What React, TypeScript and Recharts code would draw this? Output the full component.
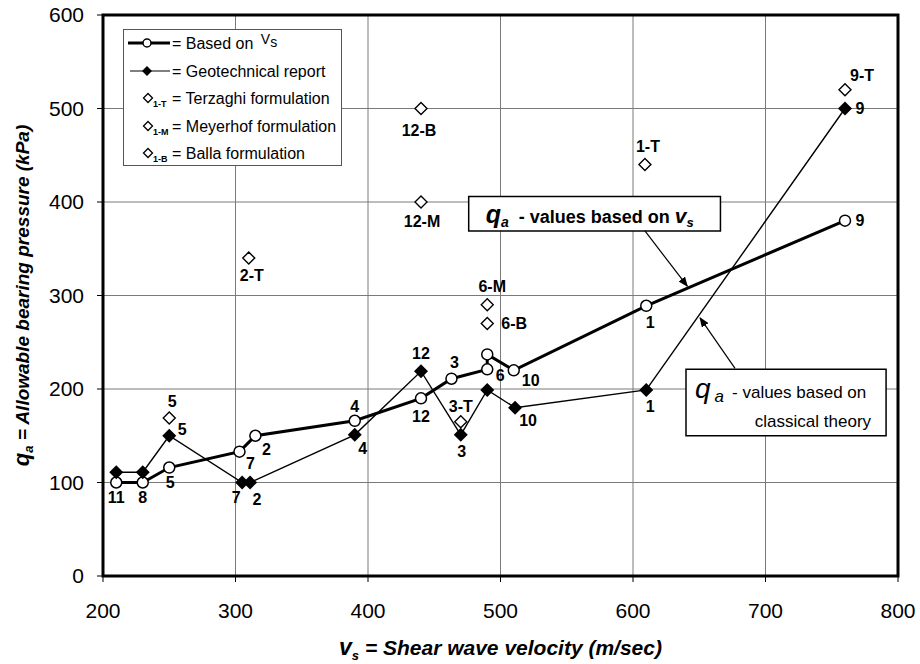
import React from 'react'
import {
  ScatterChart,
  Scatter,
  XAxis,
  YAxis,
  CartesianGrid,
  ReferenceArea,
  ReferenceLine,
  Legend,
} from 'recharts'

const FONT = '"Liberation Sans", Arial, Helvetica, sans-serif'

const X_TICKS = [200, 300, 400, 500, 600, 700, 800]
const Y_TICKS = [0, 100, 200, 300, 400, 500, 600]

// q_a based on v_s (open circles, thick line)
const vsVelocity = [210, 230, 250, 303, 315, 390, 440, 463, 490, 490, 510, 610, 760]
const vsPressure = [100, 100, 116, 133, 150, 166, 190, 211, 221, 237, 220, 289, 380]
const vsLabels = ['11', '8', '5', '7', '2', '4', '12', '3', '6', '', '10', '1', '9']

// geotechnical report (filled diamonds, thin line)
const geoVelocity = [210, 230, 250, 305, 311, 390, 440, 470, 490, 511, 610, 760]
const geoPressure = [111, 111, 150, 100, 100, 151, 219, 151, 199, 180, 199, 500]
const geoLabels = ['', '', '5', '7', '2', '4', '12', '3', '', '10', '1', '9']

// Terzaghi / Meyerhof / Balla formulations (open diamonds)
const formVelocity = [250, 310, 440, 440, 490, 490, 470, 609, 760]
const formPressure = [169, 340, 500, 400, 290, 270, 165, 440, 520]
const formLabels = ['5', '2-T', '12-B', '12-M', '6-M', '6-B', '3-T', '1-T', '9-T']

// where each point label sits relative to its marker (px)
const vsLabelOffsets = [
  [0, 15], [0, 15], [1, 15], [11, 12], [11, 14], [0, -14], [0, 18],
  [3, -16], [13, 6], [0, 0], [17, 10], [4, 17], [15, 0],
]
const geoLabelOffsets = [
  [0, 0], [0, 0], [13, -6], [-6, 15], [7, 17], [8, 14], [0, -18],
  [1, 17], [0, 0], [13, 13], [4, 17], [15, 0],
]
const formLabelOffsets = [
  [3, -16], [3, 17], [-2, 22], [1, 19], [5, -18], [27, 0], [0, -15], [3, -18], [17, -14],
]

const toPoints = (xs: number[], ys: number[], labels: string[]) =>
  xs.map((x, i) => ({ x, y: ys[i], label: labels[i], i }))

const vsData = toPoints(vsVelocity, vsPressure, vsLabels)
const geoData = toPoints(geoVelocity, geoPressure, geoLabels)
const formData = toPoints(formVelocity, formPressure, formLabels)

const diamond = (cx: number, cy: number, s: number) =>
  `M${cx},${cy - s}L${cx + s},${cy}L${cx},${cy + s}L${cx - s},${cy}Z`

function makeShape(kind: 'circle' | 'filled' | 'open', offsets: number[][]) {
  return (props: any) => {
    const { cx, cy, payload } = props
    if (cx == null || cy == null) return <g />
    const [dx, dy] = offsets[payload.i] || [0, 0]
    return (
      <g>
        {kind === 'circle' && (
          <circle cx={cx} cy={cy} r={5.5} fill="#fff" stroke="#000" strokeWidth={1.5} />
        )}
        {kind === 'filled' && <path d={diamond(cx, cy, 7)} fill="#000" />}
        {kind === 'open' && (
          <path d={diamond(cx, cy, 6)} fill="#fff" stroke="#000" strokeWidth={1.4} />
        )}
        {payload.label && (
          <text
            x={cx + dx}
            y={cy + dy}
            textAnchor="middle"
            dominantBaseline="central"
            fontFamily={FONT}
            fontWeight="bold"
            fontSize={16}
            fill="#000"
          >
            {payload.label}
          </text>
        )}
      </g>
    )
  }
}

function LegendBox() {
  const rows = [14, 42, 69, 97, 124]
  const subs = ['1-T', '1-M', '1-B']
  const names = ['Terzaghi formulation', 'Meyerhof formulation', 'Balla formulation']
  return (
    <svg width={220} height={138} style={{ display: 'block' }}>
      <rect x={0.5} y={0.5} width={218} height={136} fill="#fff" stroke="#555" strokeWidth={1} />
      <line x1={5} y1={rows[0]} x2={47} y2={rows[0]} stroke="#000" strokeWidth={3} />
      <circle cx={24} cy={rows[0]} r={4} fill="#fff" stroke="#000" strokeWidth={1.5} />
      <text x={49} y={rows[0] + 6} fontFamily={FONT} fontSize={16} fill="#000">
        = Based on <tspan fontSize={14} dy={-5} dx={3}>V</tspan>
        <tspan fontSize={14} dy={3}>s</tspan>
      </text>
      <line x1={7} y1={rows[1]} x2={47} y2={rows[1]} stroke="#000" strokeWidth={1.2} />
      <path d={diamond(24, rows[1], 5)} fill="#000" />
      <text x={49} y={rows[1] + 6} fontFamily={FONT} fontSize={16} fill="#000">
        = Geotechnical report
      </text>
      {subs.map((s, k) => (
        <g key={s}>
          <path d={diamond(25, rows[k + 2], 4.5)} fill="#fff" stroke="#000" strokeWidth={1.3} />
          <text x={30} y={rows[k + 2] + 9} fontFamily={FONT} fontSize={9} fontWeight="bold" fill="#000">
            {s}
          </text>
          <text x={49} y={rows[k + 2] + 6} fontFamily={FONT} fontSize={16} fill="#000">
            = {names[k]}
          </text>
        </g>
      ))}
    </svg>
  )
}

const vsBoxLabel = (props: any) => {
  const { x, y } = props.viewBox
  return (
    <text x={x + 17} y={y + 27} fontFamily={FONT} fontWeight="bold" fontSize={18} fill="#000">
      <tspan fontStyle="italic" fontSize={25}>q</tspan>
      <tspan fontStyle="italic" fontSize={14} dy={4}>a</tspan>
      <tspan dy={-4} dx={10}>- values based on </tspan>
      <tspan fontStyle="italic" fontSize={21}>v</tspan>
      <tspan fontStyle="italic" fontSize={13} dy={4}>s</tspan>
    </text>
  )
}

const classicBoxLabel = (props: any) => {
  const { x, y, width } = props.viewBox
  return (
    <g fontFamily={FONT} fill="#000">
      <text x={x + 9} y={y + 29} fontSize={17}>
        <tspan fontStyle="italic" fontSize={28}>q</tspan>
        <tspan fontStyle="italic" fontSize={17} dy={4} dx={4}>a</tspan>
        <tspan dy={-4} dx={8}>- values based on</tspan>
      </text>
      <text x={x + width - 15} y={y + 58} fontSize={17} textAnchor="end">
        classical theory
      </text>
    </g>
  )
}

const xTitle = (props: any) => {
  const { x, width } = props.viewBox
  return (
    <text
      x={x + width / 2}
      y={655}
      textAnchor="middle"
      fontFamily={FONT}
      fontWeight="bold"
      fontStyle="italic"
      fontSize={21}
      fill="#000"
    >
      <tspan fontSize={23}>v</tspan>
      <tspan fontSize={13} dy={5}>s</tspan>
      <tspan dy={-5}> = Shear wave velocity (m/sec)</tspan>
    </text>
  )
}

const yTitle = (props: any) => {
  const { y, height } = props.viewBox
  return (
    <text
      transform={`translate(29, ${y + height / 2}) rotate(-90)`}
      textAnchor="middle"
      fontFamily={FONT}
      fontWeight="bold"
      fontStyle="italic"
      fontSize={19}
      fill="#000"
    >
      <tspan fontSize={22}>q</tspan>
      <tspan fontSize={13} dy={4}>a</tspan>
      <tspan dy={-4}> = Allowable bearing pressure (kPa)</tspan>
    </text>
  )
}

export default function App() {
  return (
    <div style={{ position: 'absolute', left: 0, top: 0, background: '#fff' }}>
      <ScatterChart
        width={920}
        height={664}
        margin={{ top: 15, right: 22, bottom: 38, left: 23 }}
      >
        <defs>
          <marker
            id="arrowHead"
            markerWidth={10}
            markerHeight={8}
            refX={9}
            refY={4}
            orient="auto"
            markerUnits="userSpaceOnUse"
          >
            <path d="M0,0 L10,4 L0,8 Z" fill="#000" />
          </marker>
        </defs>
        <CartesianGrid stroke="#7a7a7a" strokeWidth={1} />
        <XAxis
          type="number"
          dataKey="x"
          domain={[200, 800]}
          ticks={X_TICKS}
          interval={0}
          axisLine={false}
          tickLine={{ stroke: '#000' }}
          tickSize={6}
          tickMargin={21}
          height={50}
          tick={{ fill: '#000', fontSize: 21, fontFamily: FONT }}
          label={{ content: xTitle }}
        />
        <YAxis
          type="number"
          dataKey="y"
          domain={[0, 600]}
          ticks={Y_TICKS}
          interval={0}
          axisLine={false}
          tickLine={{ stroke: '#000' }}
          tickSize={6}
          tickMargin={13}
          width={80}
          tick={{ fill: '#000', fontSize: 21, fontFamily: FONT }}
          label={{ content: yTitle }}
        />
        <ReferenceArea x1={200} x2={800} y1={0} y2={600} fill="none" stroke="#000" strokeWidth={3} />
        <ReferenceArea
          x1={476}
          x2={666}
          y1={369}
          y2={406}
          fill="#fff"
          fillOpacity={1}
          stroke="#000"
          strokeWidth={1.5}
          label={vsBoxLabel}
        />
        <ReferenceArea
          x1={640}
          x2={791}
          y1={150}
          y2={221}
          fill="#fff"
          fillOpacity={1}
          stroke="#000"
          strokeWidth={1.5}
          label={classicBoxLabel}
        />
        <ReferenceLine
          segment={[{ x: 609, y: 369 }, { x: 641, y: 310 }]}
          stroke="#000"
          strokeWidth={1.2}
          markerEnd="url(#arrowHead)"
        />
        <ReferenceLine
          segment={[{ x: 677, y: 222 }, { x: 650.6, y: 276 }]}
          stroke="#000"
          strokeWidth={1.2}
          markerEnd="url(#arrowHead)"
        />
        <Legend
          layout="vertical"
          align="center"
          verticalAlign="middle"
          wrapperStyle={{ left: 123, top: 29, width: 220, height: 138 }}
          content={() => <LegendBox />}
        />
        <Scatter
          name="Based on vs"
          data={vsData}
          line={{ stroke: '#000', strokeWidth: 3 }}
          shape={makeShape('circle', vsLabelOffsets)}
          isAnimationActive={false}
        />
        <Scatter
          name="Geotechnical report"
          data={geoData}
          line={{ stroke: '#000', strokeWidth: 1.4 }}
          shape={makeShape('filled', geoLabelOffsets)}
          isAnimationActive={false}
        />
        <Scatter
          name="Formulations"
          data={formData}
          shape={makeShape('open', formLabelOffsets)}
          isAnimationActive={false}
        />
      </ScatterChart>
    </div>
  )
}
